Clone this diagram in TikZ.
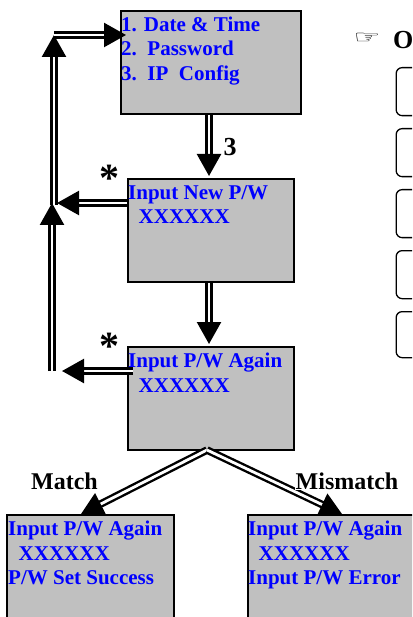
\documentclass[tikz,border=0pt]{standalone}
\usepackage{fontspec}
\setmainfont{Liberation Serif}
\newfontfamily\symfont{DejaVu Sans}
\usetikzlibrary{arrows.meta}
\definecolor{boxgrey}{RGB}{192,192,192}
\definecolor{txtblue}{RGB}{0,0,255}
\tikzset{
  x=1pt,y=-1pt,
  screen/.style={draw=black,line width=1.6pt,fill=boxgrey,anchor=north west,inner sep=0pt,minimum width=#1},
  screen/.default=166.4pt,
  screentext/.style={anchor=north west,inner sep=0pt,text=txtblue,align=left,
    font=\fontsize{21}{24.5}\selectfont\bfseries},
  dbl/.style={double=white,double distance=2.8pt,line width=2.4pt,draw=black},
  dblarrow/.style={dbl,-{Triangle[length=22pt,width=24pt,fill=black]}},
  lab/.style={inner sep=0pt,text=black,font=\fontsize{24}{26}\selectfont\bfseries},
  softkey/.style={draw=black,line width=1.3pt,rounded corners=6pt,anchor=north west,minimum width=60pt}
}
\begin{document}
\begin{tikzpicture}
\useasboundingbox (0,0) rectangle (412,617);
\clip (0,0) rectangle (412,617);
% screens
\node[screen=180pt,minimum height=103.4pt] (menu) at (120,10) {};
\node[screen,minimum height=103.4pt] (newpw) at (127,178) {};
\node[screen,minimum height=103.4pt] (again) at (127,346) {};
% junctions
\coordinate (j1) at (54,35);
\coordinate (j2) at (52,203);
\coordinate (j3) at (52,371);
\coordinate (ut) at (54,205);
\coordinate (mt) at (126,35);
\coordinate (a1) at (209,115);
\coordinate (a2) at (209,176);
\coordinate (a3) at (209,283);
\coordinate (a4) at (209,344);
\coordinate (l1) at (127,203);
\coordinate (l1t) at (57,203);
\coordinate (l2) at (133,371);
\coordinate (l2t) at (62,371);
\coordinate (fork) at (207,450);
\coordinate (tipl) at (81,514);
\coordinate (tipr) at (342,514);
% connectors
\draw[dblarrow] (a1) -- (a2);
\draw[dblarrow] (a3) -- (a4);
\draw[dblarrow] (l1) -- (l1t);
\draw[dblarrow] (l2) -- (l2t);
\draw[dblarrow] (j3) -- (j2);
\draw[dblarrow] (ut) -- (j1);
\draw[dblarrow] (j1) -- (mt);
\draw[dblarrow] (fork) -- (tipl);
\draw[dblarrow] (fork) -- (tipr);
% lower screens
\node[screen=167.4pt,minimum height=130pt] (ok) at (6,514) {};
\node[screen=167.4pt,minimum height=130pt] (err) at (247,514) {};
% screen texts
\node[screentext] (t1) at (121,16.5) {1. Date \& Time\\2.~~Password\\3.~~IP~~Config};
\node[screentext] (t2) at (128,185) {Input New P/W\\~~XXXXXX};
\node[screentext] (t3) at (128,353) {Input P/W Again\\~~XXXXXX};
\node[screentext] (t4) at (8,521) {Input P/W Again\\~~XXXXXX\\P/W Set Success};
\node[screentext] (t5) at (248,521) {Input P/W Again\\~~XXXXXX\\Input P/W Error};
% labels
\node[lab,font=\fontsize{26}{28}\selectfont\bfseries] (three) at (230,147) {3};
\node[lab,font=\fontsize{40}{40}\selectfont\bfseries] (star1) at (109,178.5) {*};
\node[lab,font=\fontsize{40}{40}\selectfont\bfseries] (star2) at (109,346.5) {*};
\node[lab] (match) at (64.5,481) {Match};
\node[lab,fill=white,inner sep=0.5pt] (mismatch) at (347,481) {Mismatch};
% right column
\node[inner sep=0pt,font=\symfont\fontsize{30}{32}\selectfont] (hand) at (367,38) {\scalebox{1}[0.6]{☞}};
\node[lab,anchor=west,font=\fontsize{26}{28}\selectfont\bfseries] (opt) at (393,40) {O};
\node[softkey,minimum height=48pt] (k1) at (395.5,67) {};
\node[softkey,minimum height=48pt] (k2) at (395.5,128) {};
\node[softkey,minimum height=48pt] (k3) at (395.5,189) {};
\node[softkey,minimum height=48pt] (k4) at (395.5,250) {};
\node[softkey,minimum height=46pt] (k5) at (395.5,311) {};
\end{tikzpicture}
\end{document}
